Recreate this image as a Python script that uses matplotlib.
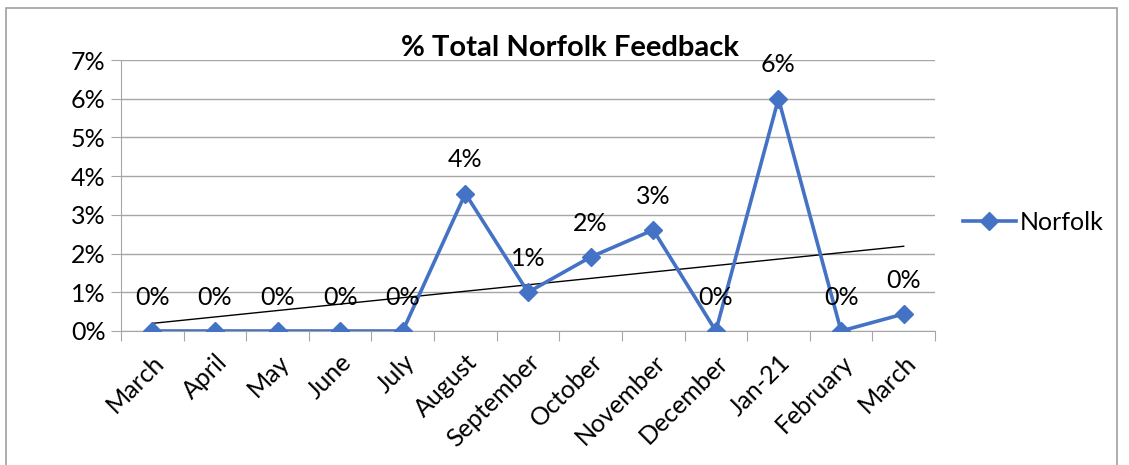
import numpy as np
import matplotlib
matplotlib.use('Agg')
import matplotlib.pyplot as plt
from matplotlib.patches import Rectangle

plt.rcParams['font.family'] = ['Lato', 'DejaVu Sans']

months = ['March', 'April', 'May', 'June', 'July', 'August', 'September',
          'October', 'November', 'December', 'Jan-21', 'February', 'March']
norfolk = [0.0, 0.0, 0.0, 0.0, 0.0, 3.55, 1.0, 1.91, 2.61, 0.0, 6.0, 0.0, 0.44]
yticks = [0, 1, 2, 3, 4, 5, 6, 7]

blue = '#4472C4'
grid = '#A6A6A6'

fig = plt.figure(figsize=(11.29, 4.65), dpi=100)
ax = fig.add_axes([121/1129, 1-331/465, (935-121)/1129, (331-60)/465])

x = np.arange(len(months))
ax.plot(x, norfolk, color=blue, lw=2.6, marker='D', markersize=9,
        label='Norfolk', zorder=3)

# linear trendline
k, b = np.polyfit(x, norfolk, 1)
ax.plot(x, k*x + b, color='black', lw=1, zorder=2)

for xi, v in zip(x, norfolk):
    ax.annotate(f'{round(v):.0f}%', (xi, v), xytext=(0, 16),
                textcoords='offset points', ha='center', va='bottom',
                fontsize=18, color='black', zorder=4)

ax.set_xlim(-0.5, len(months)-0.5)
ax.set_ylim(0, 7)
ax.set_yticks(yticks)
ax.set_yticklabels([f'{t}%' for t in yticks], fontsize=18)
ax.yaxis.grid(True, color=grid, lw=1)
ax.set_axisbelow(True)

ax.set_xticks(np.arange(len(months)+1) - 0.5)
ax.set_xticklabels([])
ax.set_xticks(x, minor=True)
ax.set_xticklabels(months, minor=True, rotation=45, ha='right',
                   rotation_mode='anchor', fontsize=18)
ax.tick_params(axis='x', which='minor', length=0, pad=14)
ax.tick_params(axis='x', which='major', length=7, color=grid)
ax.tick_params(axis='y', length=7, color=grid, pad=4)

for s in ['top', 'right']:
    ax.spines[s].set_visible(False)
for s in ['left', 'bottom']:
    ax.spines[s].set_color(grid)

fig.text(570/1129, 1-48/465, '% Total Norfolk Feedback', ha='center',
         va='center', fontsize=21, fontweight='bold')

fig.legend(loc='center left', bbox_to_anchor=(940/1129, 1-222/465),
           frameon=False, fontsize=18, handlelength=2.15, handletextpad=0.15)

fig.patches.append(Rectangle((6/1129, -0.1), (1117-6)/1129, 1.1 - 8/465,
                             transform=fig.transFigure, fill=False,
                             edgecolor='#A0A0A0', lw=1.2))

fig.savefig('out.png', dpi=100)
